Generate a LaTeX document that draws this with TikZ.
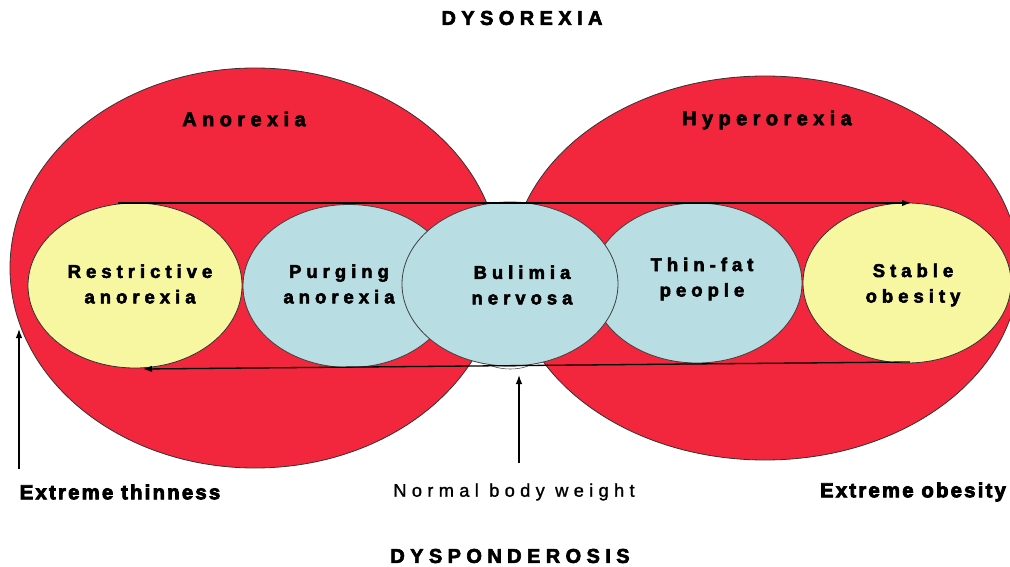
\documentclass[tikz,border=0pt]{standalone}
\usepackage{fontspec}
\setmainfont{Liberation Sans}
\newfontfamily\spfont[LetterSpace=27,BoldFeatures={FakeBold=3}]{Liberation Sans}
\newfontfamily\normfont[LetterSpace=29,FakeBold=1.2]{Liberation Sans}
\newfontfamily\heavyfont[LetterSpace=11,BoldFeatures={FakeBold=4}]{Liberation Sans}
\usetikzlibrary{shapes.geometric,arrows.meta}
\definecolor{lobered}{RGB}{242,38,60}
\definecolor{paleyellow}{RGB}{247,247,162}
\definecolor{paleblue}{RGB}{184,221,226}
\tikzset{
  lobe/.style={ellipse,draw=black!80,line width=0.8pt,fill=lobered,inner sep=0pt},
  yel/.style={ellipse,draw=black!80,line width=0.8pt,fill=paleyellow,inner sep=0pt},
  blu/.style={ellipse,draw=black!75,line width=0.8pt,fill=paleblue,inner sep=0pt},
  title/.style={font=\spfont\bfseries\fontsize{20}{24}\selectfont,inner sep=0pt},
  lbl/.style={font=\spfont\bfseries\fontsize{18.5}{25.5}\selectfont,align=center,inner sep=0pt},
  axislbl/.style={font=\heavyfont\bfseries\fontsize{20.3}{22}\selectfont,inner sep=0pt},
  normallbl/.style={font=\normfont\fontsize{18.3}{22}\selectfont,inner sep=0pt},
  arr/.style={line width=1.3pt,-{Latex[length=9pt,width=6.5pt]}}
}
\begin{document}
\begin{tikzpicture}[x=1pt,y=-1pt]
\clip (0,0) rectangle (1010,567);
\fill[white] (0,0) rectangle (1010,567);
% big lobes
\node[lobe,minimum width=490pt,minimum height=400pt] (ano) at (255,268) {};
\node[lobe,minimum width=508pt,minimum height=384pt] (hyp) at (765,268) {};
% small ellipses
\node[yel,minimum width=214pt,minimum height=165pt] (restr) at (135,285.5) {};
\node[blu,minimum width=212pt,minimum height=163pt] (purg) at (349,286) {};
\node[yel,minimum width=208pt,minimum height=160pt] (stab) at (907,283) {};
\node[blu,minimum width=210pt,minimum height=160pt] (thin) at (697,283) {};
\node[blu,minimum width=216pt,minimum height=164pt] (bul) at (510,284) {};
\draw[black!70,line width=0.6pt] (492,366) .. controls (503,370) and (518,370) .. (528,366);
% texts
\node[title] (dysorexia) at (522,18) {DYSOREXIA};
\node[title] (dysponderosis) at (510,556) {DYSPONDEROSIS};
\node[title] (anolbl) at (244,119) {Anorexia};
\node[title] (hyplbl) at (767,120) {Hyperorexia};
\node[lbl] at (140,284) {Restrictive\\anorexia};
\node[lbl] at (339,284) {Purging\\anorexia};
\node[lbl] at (522,285) {Bulimia\\nervosa};
\node[lbl] at (702,279) {Thin-fat\\people};
\node[lbl] at (913,285) {Stable\\obesity};
\node[axislbl] (thinness) at (120,492) {Extreme thinness};
\node[normallbl] (normal) at (514,492) {Normal body weight};
\node[axislbl] (obesity) at (913,492) {Extreme obesity};
% arrows
\coordinate (topL) at (118,203);
\coordinate (topR) at (911,203);
\coordinate (botR) at (910,362);
\coordinate (botL) at (143,369);
\coordinate (thinTail) at (19,469);
\coordinate (thinTip) at (19,329);
\coordinate (normTail) at (519,463);
\coordinate (normTip) at (519,375);
\draw[arr] (topL) -- (topR);
\draw[arr] (botR) -- (botL);
\draw[arr] (thinTail) -- (thinTip);
\draw[arr] (normTail) -- (normTip);
\end{tikzpicture}
\end{document}
